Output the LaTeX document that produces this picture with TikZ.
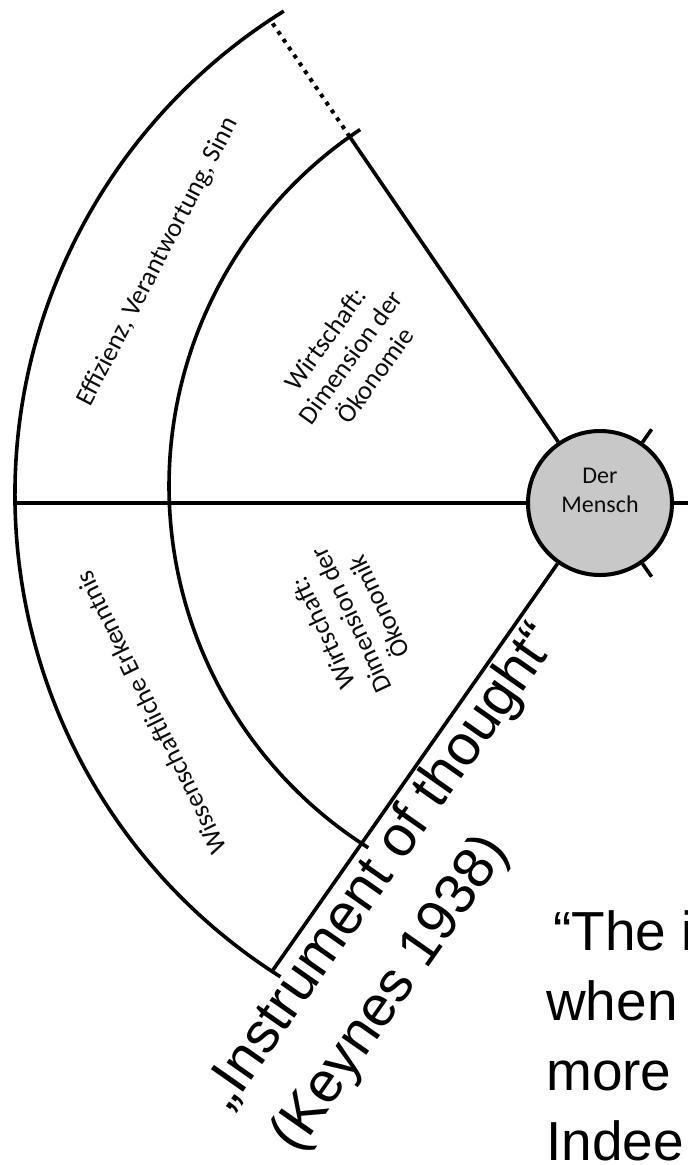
\documentclass[tikz,border=0pt]{standalone}
\usepackage{fontspec}
\setmainfont{Liberation Sans}
\newfontfamily\carlito{Carlito}
\definecolor{discfill}{RGB}{200,200,200}
\definecolor{labeltext}{RGB}{12,12,12}
\begin{document}
\begin{tikzpicture}[x=1pt,y=-1pt,
  rule/.style={line width=3.6pt, black},
  dotrule/.style={line width=4pt, black, dash pattern=on 4pt off 5.5pt},
  sectorlabel/.style={font=\carlito\fontsize{26.5}{31}\selectfont, text=labeltext, align=center, inner sep=0pt},
  caption/.style={font=\fontsize{57}{66}\selectfont, text=black, inner sep=0pt, anchor=base west, rotate=55},
  quotetext/.style={font=\fontsize{55}{66}\selectfont, text=black, inner sep=0pt, anchor=base west}]
\useasboundingbox (0,0) rectangle (688,1165);
\clip (0,0) rectangle (688,1165);

% centres of the hub and of the two rings
\coordinate (C)  at (600,503);
\coordinate (O1) at (597,486);
\coordinate (O2) at (585,495);

% ends of the spokes on the rings
\coordinate (iu) at (349.7,136.7);
\coordinate (ou) at (270.2,19.8);
\coordinate (ow) at (15,503);
\coordinate (ol) at (272,971.4);
\coordinate (oe) at (700,503);
\coordinate (tu) at (651.6,429.3);
\coordinate (tl) at (651.6,576.7);

% the two rings
\draw[rule] (O2) ++(122.3:570) arc[start angle=122.3, end angle=238.1, radius=570];
\draw[rule] (O1) ++(122.3:428) arc[start angle=122.3, end angle=236.4, radius=428];

% hub
\node[circle, draw, line width=4pt, fill=discfill, minimum size=144pt, inner sep=0pt] (mensch) at (C) {};
\node[font=\carlito\fontsize{24}{29}\selectfont, text=labeltext, align=center, inner sep=0pt] (menschtext) at (600,490) {Der\\Mensch};

% spokes
\draw[rule] (mensch) -- (iu);
\draw[dotrule] (iu) -- (ou);
\draw[rule] (mensch) -- (ow);
\draw[rule] (mensch) -- (ol);
\draw[rule] (mensch) -- (oe);
\draw[rule] (mensch) -- (tu);
\draw[rule] (mensch) -- (tl);

% sector labels
\node[sectorlabel, rotate=62.6] (effizienz) at (158,262) {Effizienz, Verantwortung, Sinn};
\node[sectorlabel, rotate=54] (oekonomie) at (350,357) {Wirtschaft:\\Dimension der\\Ökonomie};
\node[sectorlabel, rotate=116.1] (wissen) at (151,713) {Wissenschaftliche Erkenntnis};
\node[sectorlabel, rotate=115.3] (oekonomik) at (351,620) {Wirtschaft:\\Dimension der\\Ökonomik};

% caption along the lower spoke
\node[caption] (instrument) at (229,1112) {„Instrument of thought“};
\node[caption] (keynes) at (297,1155) {(Keynes 1938)};

% quotation at the lower right
\node[quotetext] (q1) at (553,950) {“The i};
\node[quotetext] (q2) at (546,1020) {when};
\node[quotetext] (q3) at (546,1090) {more};
\node[quotetext] (q4) at (546,1160) {Indee};
\end{tikzpicture}
\end{document}
